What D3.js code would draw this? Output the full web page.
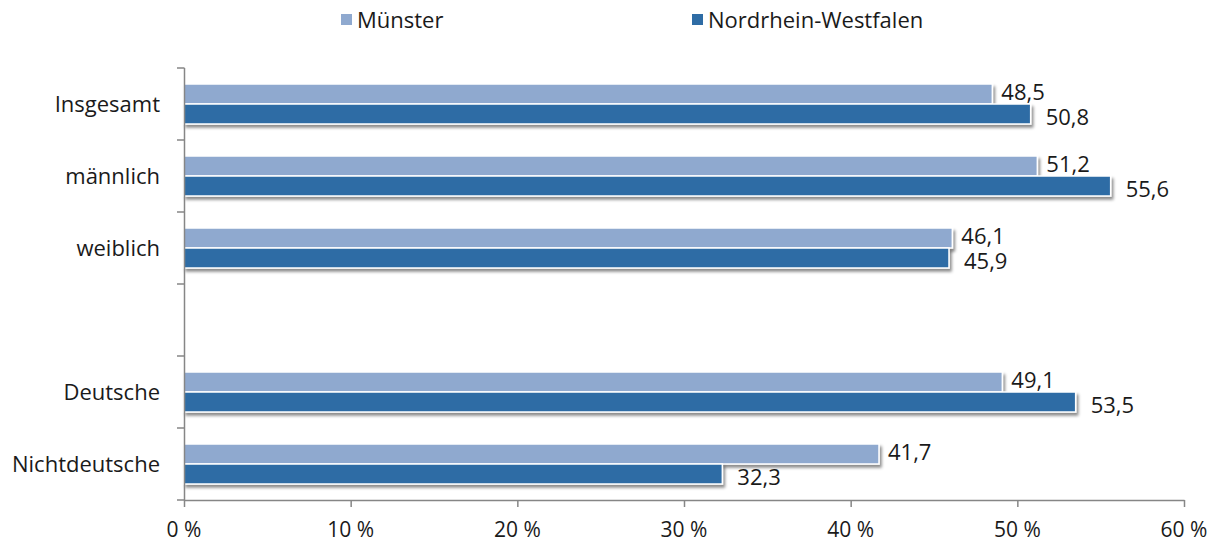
<!DOCTYPE html>
<html><head><meta charset="utf-8">
<script src="https://cdn.jsdelivr.net/npm/d3@7"></script>
<style>
body{margin:0;background:#fff;}
text{font-family:"Open Sans",sans-serif;fill:#1a1a1a;}
</style></head>
<body><svg id="c" width="1221" height="542"></svg>
<script>
const categories = ["Insgesamt","männlich","weiblich","","Deutsche","Nichtdeutsche"];
const seriesNames = ["Münster","Nordrhein-Westfalen"];
const muenster = [48.5, 51.2, 46.1, null, 49.1, 41.7];
const nrw = [50.8, 55.6, 45.9, null, 53.5, 32.3];
const xTicks = [0,10,20,30,40,50,60];
const colors = ["#8FA9CF","#2E6CA5"];

const svg = d3.select("#c");
const defs = svg.append("defs");
const f = defs.append("filter").attr("id","sh").attr("x","-5%").attr("y","-30%").attr("width","115%").attr("height","180%");
f.append("feDropShadow").attr("dx",2).attr("dy",3).attr("stdDeviation",1.6).attr("flood-color","#000").attr("flood-opacity",0.45);

const x = d3.scaleLinear().domain([0,60]).range([184,1184]);
const y = d3.scaleBand().domain(d3.range(categories.length)).range([68,500]).padding(0);
const sub = d3.scaleBand().domain([0,1]).range([16,56]).padding(0);

// bars
const series = [muenster, nrw];
series.forEach((vals, si) => {
  const g = svg.append("g");
  vals.forEach((v, i) => {
    if (v == null) return;
    g.append("rect")
      .attr("x", x(0))
      .attr("y", y(i) + sub(si))
      .attr("width", x(v) - x(0))
      .attr("height", sub.bandwidth())
      .attr("fill", colors[si])
      .attr("stroke", "#fff").attr("stroke-width", 1.5)
      .attr("filter", "url(#sh)");
  });
});
// labels
const fmt = v => d3.format(".1f")(v).replace(".", ",");
const lblOff = [9, 15];
const lblDy = [-2, 3];
series.forEach((vals, si) => {
  vals.forEach((v, i) => {
    if (v == null) return;
    svg.append("text")
      .attr("x", x(v) + lblOff[si])
      .attr("y", y(i) + sub(si) + sub.bandwidth()/2 + lblDy[si])
      .attr("dy","0.35em")
      .attr("font-size", 22)
      .text(fmt(v));
  });
});

// y axis
const ax = "#868686";
svg.append("line").attr("x1",184.5).attr("x2",184.5).attr("y1",68).attr("y2",500).attr("stroke",ax).attr("stroke-width",1.5);
d3.range(categories.length+1).forEach(i => {
  const yy = i < categories.length ? y(i) : 500;
  svg.append("line").attr("x1",177).attr("x2",184.5).attr("y1",yy).attr("y2",yy).attr("stroke",ax).attr("stroke-width",1.5);
});
categories.forEach((c,i) => {
  if (!c) return;
  svg.append("text").attr("x",160).attr("y",y(i)+y.bandwidth()/2).attr("dy","0.35em")
    .attr("text-anchor","end").attr("font-size",22).text(c);
});
// x axis
svg.append("line").attr("x1",184).attr("x2",1184.5).attr("y1",500.5).attr("y2",500.5).attr("stroke",ax).attr("stroke-width",1.5);
xTicks.forEach(t => {
  svg.append("line").attr("x1",x(t)+0.5).attr("x2",x(t)+0.5).attr("y1",500).attr("y2",507).attr("stroke",ax).attr("stroke-width",1.5);
  svg.append("text").attr("x",x(t)).attr("y",530).attr("dy","0.35em").attr("text-anchor","middle").attr("font-size",21).text(t + " %");
});

// legend
const legX = [341, 692];
seriesNames.forEach((n,i) => {
  svg.append("rect").attr("x",legX[i]).attr("y",14).attr("width",11).attr("height",11).attr("fill",colors[i]);
  svg.append("text").attr("x",legX[i]+16).attr("y",20).attr("dy","0.35em").attr("font-size",22).text(n);
});
</script></body></html>
